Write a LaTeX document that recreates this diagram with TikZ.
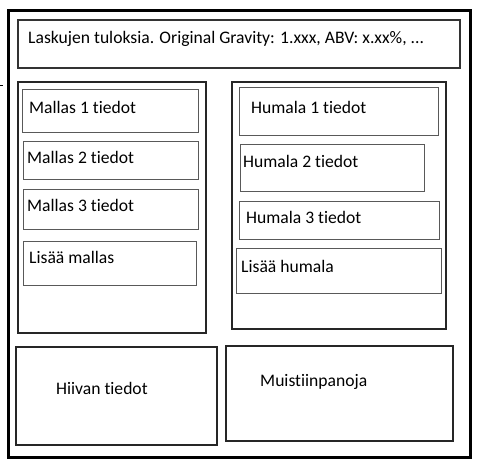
\documentclass[tikz,border=0pt]{standalone}
\usepackage{fontspec}
\setmainfont{Carlito}[Ligatures={NoCommon,NoContextual}]
\begin{document}
\begin{tikzpicture}[x=1pt,y=-1pt,
  outerbox/.style={draw=black,line width=3pt},
  panel/.style={draw=black!85,line width=1.4pt},
  inbox/.style={draw=black!65,line width=1pt},
  lbl/.style={anchor=west,inner sep=0pt,font=\fontsize{17.6}{20}\selectfont}]
\useasboundingbox (0,0) rectangle (482,469);
\draw[outerbox] (8,10) rectangle (470,457);
\draw[line width=0.8pt] (0,85) -- (2.5,85);
% top results
\draw[inbox,draw=black!80,line width=1.2pt] (18,20) rectangle (460,68);
\node[lbl] (res) at (28,39) {Laskujen tuloksia. Original Gravity: 1.xxx, ABV: x.xx\%, ...};
% left panel
\draw[panel] (18,82) rectangle (206,333);
\draw[inbox] (22,89) rectangle (198,132);
\node[lbl] (m1) at (29,107) {Mallas 1 tiedot};
\draw[inbox] (23,141) rectangle (198,179);
\node[lbl] (m2) at (27,157) {Mallas 2 tiedot};
\draw[inbox] (23,189) rectangle (198,229);
\node[lbl] (m3) at (27,205) {Mallas 3 tiedot};
\draw[inbox] (23,241) rectangle (196,285);
\node[lbl] (m4) at (29,257) {Lisää mallas};
% right panel
\draw[panel] (232,82) rectangle (446,329);
\draw[inbox] (239,87) rectangle (438,135);
\node[lbl] (h1) at (251,107) {Humala 1 tiedot};
\draw[inbox] (240,144) rectangle (424,191);
\node[lbl] (h2) at (243,161) {Humala 2 tiedot};
\draw[inbox] (239,201) rectangle (439,239);
\node[lbl] (h3) at (246,217) {Humala 3 tiedot};
\draw[inbox] (236,248) rectangle (441,293);
\node[lbl] (h4) at (241,266) {Lisää humala};
% bottom
\draw[panel] (16,347) rectangle (217,445);
\node[lbl] (yeast) at (56,388) {Hiivan tiedot};
\draw[panel] (226,346) rectangle (453,441);
\node[lbl] (notes) at (260,382) {Muistiinpanoja};
\end{tikzpicture}
\end{document}
